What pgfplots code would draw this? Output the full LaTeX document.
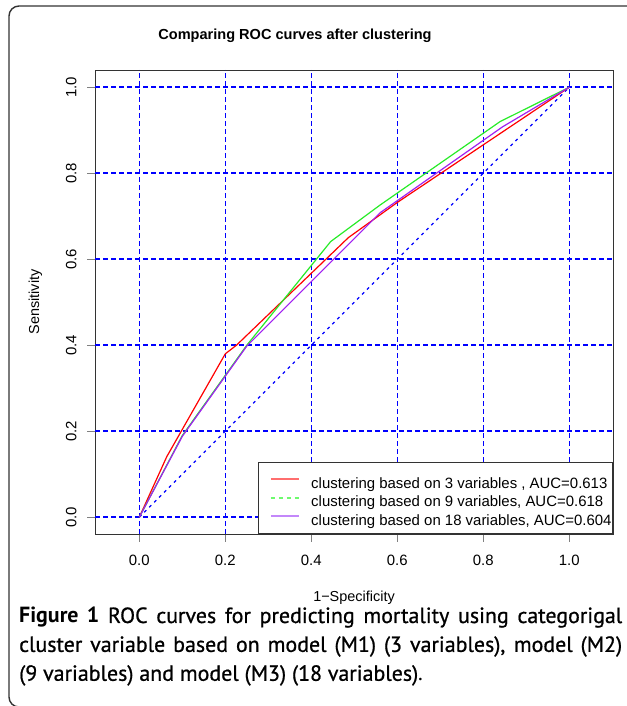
\documentclass[border=0pt]{standalone}
\usepackage{fontspec}
\setmainfont{Liberation Sans}
\newfontfamily\capfont{PT Sans}
\newfontfamily\capsemi{PT Sans}[FakeBold=0.8]
\usepackage{pgfplots}
\pgfplotsset{compat=1.18}
\definecolor{rgreen}{RGB}{40,235,40}
\definecolor{rpurple}{RGB}{160,32,240}
\definecolor{lred}{RGB}{255,110,110}
\definecolor{lgreen}{RGB}{110,250,110}
\definecolor{lpurple}{RGB}{195,135,250}
\begin{document}
\begin{tikzpicture}[x=1bp,y=1bp]
\useasboundingbox (0,0) rectangle (627,706);
\begin{scope}
\clip (0,0) rectangle (627,706);
\draw[black!80, line width=1.4bp, rounded corners=10bp] (9,-1) rectangle (680,700);
\end{scope}
\node[font=\bfseries\fontsize{14.6}{15}\selectfont] at (295,670) {Comparing ROC curves after clustering};
\begin{axis}[
  at={(95bp,172bp)}, anchor=south west, scale only axis,
  width=518bp, height=464bp,
  xmin=-0.103, xmax=1.1016, ymin=-0.039, ymax=1.040,
  xtick={0,0.2,0.4,0.6,0.8,1.0}, ytick={0,0.2,0.4,0.6,0.8,1.0},
  xticklabels={0.0,0.2,0.4,0.6,0.8,1.0}, yticklabels={0.0,0.2,0.4,0.6,0.8,1.0},
  axis line style={black!80, line width=0.9bp},
  major tick style={line width=0.7bp},
  tick align=outside, major tick length=8bp,
  xtick pos=bottom, ytick pos=left,
  tick label style={font=\fontsize{15}{15}\selectfont},
  xticklabel shift=10bp, yticklabel shift=7bp,
  yticklabel style={rotate=90, anchor=south},
  label style={font=\fontsize{14.5}{14.5}\selectfont},
  xlabel={1\textminus Specificity}, ylabel={Sensitivity},
  xlabel style={at={(axis description cs:0.5,-0.138)}, anchor=center},
  ylabel style={at={(axis description cs:-0.115,0.5)}, anchor=center},
  legend style={font=\fontsize{15}{15}\selectfont, draw=black!80, line width=0.9bp, fill=white,
    at={(1,0)}, anchor=south east, inner xsep=0bp, inner ysep=8.3bp,
    nodes={inner xsep=1bp, inner ysep=0bp, text depth=0bp, text height=18.3bp}},
  legend cell align=left,
  legend image code/.code={\path[draw=none] (0bp,0bp) -- (52bp,0bp); \draw[#1] (12.7bp,0bp) -- (41bp,0bp);},
]
% grid lines
\pgfplotsinvokeforeach{0,0.2,0.4,0.6,0.8,1.0}{
\addplot[blue, line width=1.5bp, dash pattern=on 4.5bp off 3.5bp, forget plot] coordinates {(#1,-0.039) (#1,1.04)};
\addplot[blue, line width=1.5bp, dash pattern=on 4.5bp off 3.5bp, forget plot] coordinates {(-0.103,#1) (1.1016,#1)};
}
% diagonal
\addplot[blue, line width=1.1bp, dash pattern=on 3bp off 4bp, forget plot] coordinates {(0,0) (1,1)};
\addplot[red, line width=1.2bp, forget plot] coordinates {
(0,0) (0.064,0.141) (0.200,0.380) (0.226,0.400) (0.486,0.650) (0.600,0.732) (0.800,0.866) (1,1)};
\addplot[rgreen, line width=1.2bp, forget plot] coordinates {
(0,0) (0.100,0.190) (0.250,0.400) (0.445,0.641) (0.560,0.726) (0.839,0.920) (1,1)};
\addplot[rpurple, line width=1.2bp, forget plot] coordinates {
(0,0) (0.100,0.188) (0.250,0.398) (0.560,0.708) (0.845,0.908) (1,1)};
\addlegendimage{color=lred, line width=2bp}
\addlegendentry{clustering based on 3 variables , AUC=0.613}
\addlegendimage{color=lgreen, line width=2bp, dash pattern=on 4bp off 4bp}
\addlegendentry{clustering based on 9 variables, AUC=0.618}
\addlegendimage{color=lpurple, line width=2bp}
\addlegendentry{clustering based on 18 variables, AUC=0.604}
\end{axis}
\node[anchor=base west, inner sep=0pt] at (19,83) {\begin{minipage}[t]{603bp}\capfont\fontsize{22}{29}\selectfont
{\bfseries Figure 1} \capsemi ROC curves for predicting mortality using categorigal\linebreak
cluster variable based on model (M1) (3 variables), model (M2)\linebreak
(9 variables) and model (M3) (18 variables)\capfont.\end{minipage}};
\end{tikzpicture}
\end{document}
